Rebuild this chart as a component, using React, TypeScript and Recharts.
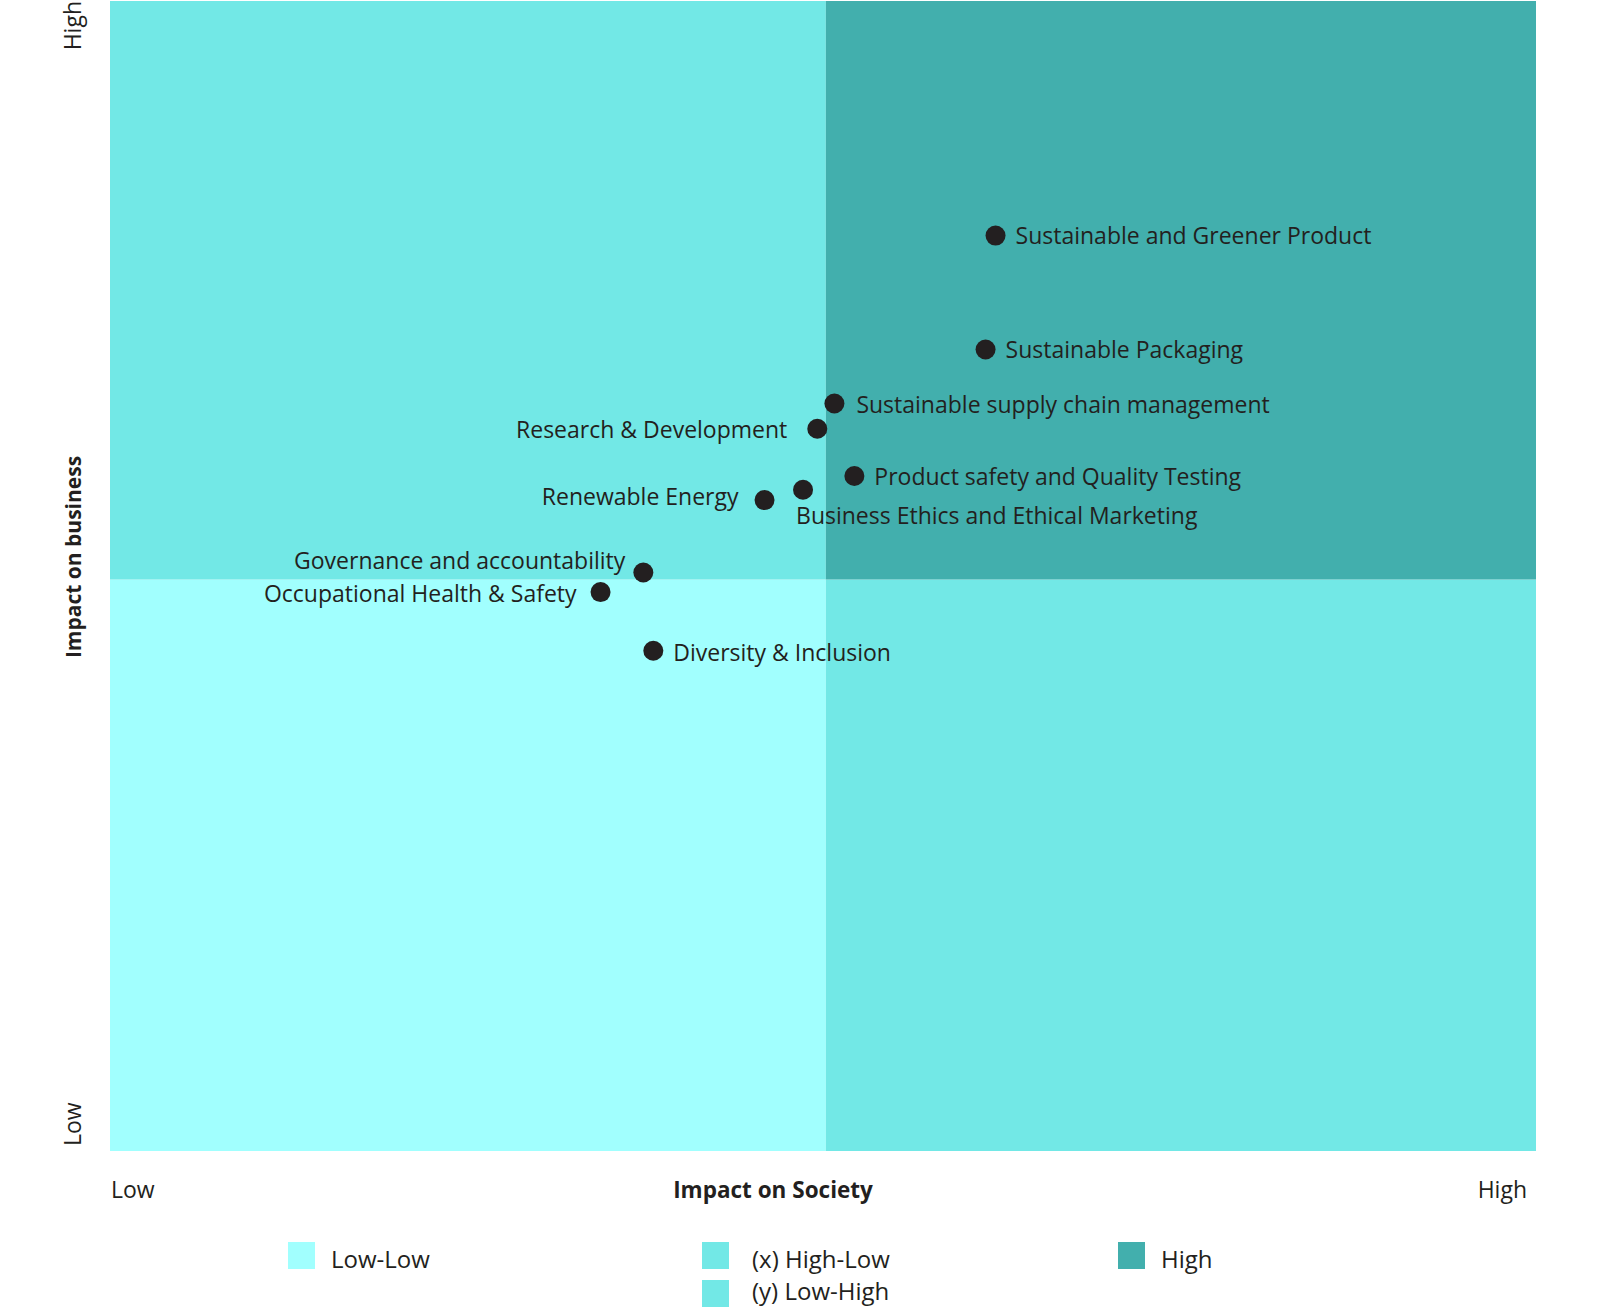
import React from "react";
import {
  ScatterChart,
  Scatter,
  XAxis,
  YAxis,
  ReferenceArea,
  Legend,
} from "recharts";

const topics = [
  "Sustainable and Greener Product",
  "Sustainable Packaging",
  "Sustainable supply chain management",
  "Research & Development",
  "Product safety and Quality Testing",
  "Business Ethics and Ethical Marketing",
  "Renewable Energy",
  "Governance and accountability",
  "Occupational Health & Safety",
  "Diversity & Inclusion",
];
const societyImpact = [6.21, 6.14, 5.08, 4.96, 5.22, 4.86, 4.59, 3.74, 3.44, 3.81];
const businessImpact = [7.96, 6.97, 6.5, 6.28, 5.87, 5.75, 5.66, 5.03, 4.86, 4.35];

const axisTicks = [0, 10];
const axisTickLabels = ["Low", "High"];
const splitSociety = 5.02;
const splitBusiness = 4.97;

const legendItems = [
  { label: "Low-Low", color: "#A1FFFE", col: 0, row: 0 },
  { label: "(x) High-Low", color: "#72E8E6", col: 1, row: 0 },
  { label: "(y) Low-High", color: "#72E8E6", col: 1, row: 1 },
  { label: "High", color: "#42AFAD", col: 2, row: 0 },
];

// label placement per point: [dx, dy, anchor]
const labelPlacement: [number, number, string][] = [
  [20, -1, "start"],
  [20, 0, "start"],
  [22, 0, "start"],
  [-30, 0, "end"],
  [20, 0, "start"],
  [-7, 25, "start"],
  [-26, -4, "end"],
  [-18, -13, "end"],
  [-24, 1, "end"],
  [20, 1, "start"],
];

const FONT = "'Open Sans', 'Noto Sans', sans-serif";
const TEXT = "#231F20";

const data = topics.map((name, i) => ({
  name,
  idx: i,
  x: societyImpact[i],
  y: businessImpact[i],
}));

const PointShape = (props: any) => {
  const { cx, cy, payload } = props;
  const [dx, dy, anchor] = labelPlacement[payload.idx];
  return (
    <g>
      <circle cx={cx} cy={cy} r={10} fill={TEXT} />
      <text
        x={cx + dx}
        y={cy + dy}
        textAnchor={anchor as any}
        dominantBaseline="central"
        fontFamily={FONT}
        fontSize={23}
        fill={TEXT}
      >
        {payload.name}
      </text>
    </g>
  );
};

const XTick = (props: any) => {
  const { x, y, index } = props;
  return (
    <text
      x={index === 0 ? x + 1 : x - 9}
      y={y + 30}
      textAnchor={index === 0 ? "start" : "end"}
      dominantBaseline="central"
      fontFamily={FONT}
      fontSize={23}
      fill={TEXT}
    >
      {axisTickLabels[index]}
    </text>
  );
};

const YTick = (props: any) => {
  const { y, index } = props;
  const ty = index === 0 ? y - 5 : y - 8;
  return (
    <text
      x={81}
      y={ty}
      transform={`rotate(-90, 81, ${ty})`}
      textAnchor={index === 0 ? "start" : "end"}
      fontFamily={FONT}
      fontSize={23}
      fill={TEXT}
    >
      {axisTickLabels[index]}
    </text>
  );
};

const XTitle = (props: any) => {
  const { viewBox } = props;
  const cx = viewBox.x + viewBox.width / 2 - 50;
  return (
    <text
      x={cx}
      y={viewBox.y + 38}
      textAnchor="middle"
      dominantBaseline="central"
      fontFamily={FONT}
      fontWeight={700}
      fontSize={22.5}
      fill={TEXT}
    >
      Impact on Society
    </text>
  );
};

const YTitle = (props: any) => {
  const { viewBox } = props;
  const cy = viewBox.y + viewBox.height / 2 - 19;
  return (
    <text
      x={81}
      y={cy}
      transform={`rotate(-90, 81, ${cy})`}
      textAnchor="middle"
      fontFamily={FONT}
      fontWeight={700}
      fontSize={21}
      fill={TEXT}
    >
      Impact on business
    </text>
  );
};

const colLeft = [288, 702, 1118];
const colGap = [16, 23, 16];
const rowTextShift = [3, -3];

const LegendContent = () => (
  <div style={{ position: "relative", width: 1600, height: 70 }}>
    {legendItems.map((it) => (
      <div
        key={it.label}
        style={{
          position: "absolute",
          left: colLeft[it.col],
          top: 4 + it.row * 38,
          display: "flex",
          alignItems: "center",
          fontFamily: FONT,
          fontSize: 24,
          lineHeight: "27px",
          color: TEXT,
        }}
      >
        <span
          style={{
            display: "inline-block",
            width: 27,
            height: 27,
            background: it.color,
            marginRight: colGap[it.col],
          }}
        />
        <span style={{ position: "relative", top: rowTextShift[it.row] }}>
          {it.label}
        </span>
      </div>
    ))}
  </div>
);

export default function App() {
  return (
    <div style={{ position: "absolute", left: 0, top: 0 }}>
      <ScatterChart
        width={1600}
        height={1308}
        margin={{ top: 1, right: 64, left: 8, bottom: 0 }}
      >
        <XAxis
          type="number"
          dataKey="x"
          domain={[0, 10]}
          ticks={axisTicks}
          axisLine={false}
          tickLine={false}
          height={87}
          tick={<XTick />}
          label={<XTitle />}
          allowDataOverflow
        />
        <YAxis
          type="number"
          dataKey="y"
          domain={[0, 10]}
          ticks={axisTicks}
          axisLine={false}
          tickLine={false}
          width={102}
          tick={<YTick />}
          label={<YTitle />}
          allowDataOverflow
        />
        <ReferenceArea x1={0} x2={splitSociety} y1={0} y2={splitBusiness} fill="#A1FFFE" fillOpacity={1} stroke="none" />
        <ReferenceArea x1={splitSociety} x2={10} y1={0} y2={splitBusiness} fill="#72E8E6" fillOpacity={1} stroke="none" />
        <ReferenceArea x1={0} x2={splitSociety} y1={splitBusiness} y2={10} fill="#72E8E6" fillOpacity={1} stroke="none" />
        <ReferenceArea x1={splitSociety} x2={10} y1={splitBusiness} y2={10} fill="#42AFAD" fillOpacity={1} stroke="none" />
        <Scatter data={data} shape={<PointShape />} isAnimationActive={false} />
        <Legend
          verticalAlign="bottom"
          content={<LegendContent />}
          wrapperStyle={{ left: 0, width: 1600 }}
        />
      </ScatterChart>
    </div>
  );
}
